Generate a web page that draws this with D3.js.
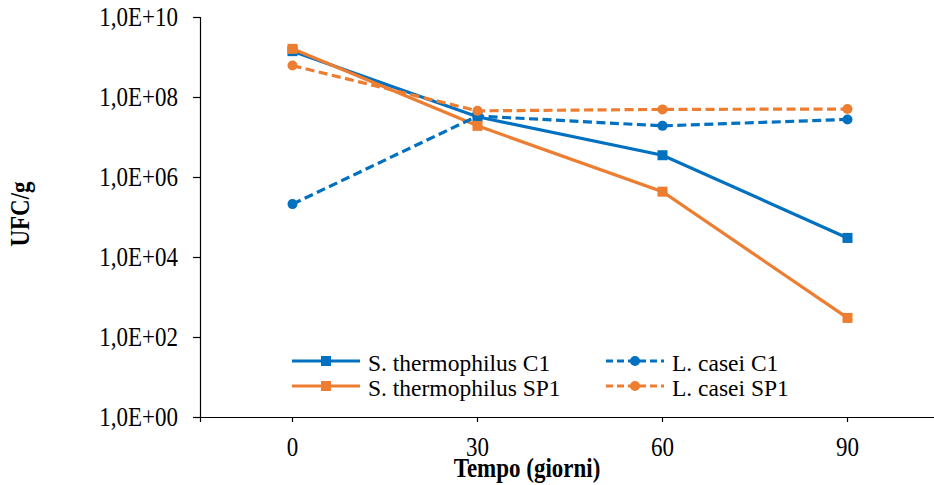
<!DOCTYPE html>
<html>
<head>
<meta charset="utf-8">
<script src="https://cdn.jsdelivr.net/npm/d3@7"></script>
<style>
  body { margin: 0; background: #fff; }
  text { font-family: "Liberation Serif", "Times New Roman", serif; fill: #000; }
</style>
</head>
<body>
<svg id="chart" width="934" height="485"></svg>
<script>
// categories (days)
var giorni = ["0", "30", "60", "90"];

// UFC/g per series
var stC1 = [1.4e9, 3.2e7, 3.5e6, 3.0e4];
var stSP1 = [1.6e9, 1.9e7, 4.3e5, 3.0e2];
var lcC1 = [2.1e5, 3.35e7, 1.9e7, 2.75e7];
var lcSP1 = [6.1e8, 4.5e7, 4.9e7, 5.0e7];

var yTicks = [1e0, 1e2, 1e4, 1e6, 1e8, 1e10];

var series = [
    { name: "S. thermophilus C1", values: stC1, color: "#0070C0", dashed: false, marker: "square" },
    { name: "S. thermophilus SP1", values: stSP1, color: "#ED7D31", dashed: false, marker: "square" },
    { name: "L. casei C1", values: lcC1, color: "#0070C0", dashed: true, marker: "circle" },
    { name: "L. casei SP1", values: lcSP1, color: "#ED7D31", dashed: true, marker: "circle" }
];

// axis text in the source is a bit taller than plain Times, stretch it vertically
var textStretch = 1.15;

function stretch(sel)
{
    sel.each(function ()
    {
        var t = d3.select(this);
        var tx = +t.attr("x") || 0;
        var ty = +t.attr("y") || 0;
        t.attr("transform", "translate(" + tx + "," + ty + ") scale(1," + textStretch + ") translate(" + (-tx) + "," + (-ty) + ")");
    });
}

var svg = d3.select("#chart");

var x = d3.scaleBand().domain(giorni).range([200, 940]);
var y = d3.scaleLog().domain([1e0, 1e10]).range([417, 17]);

function fmtExp(v)
{
    var e = Math.round(Math.log10(v));
    return "1,0E+" + (e < 10 ? "0" + e : e);
}

// y axis
var yAxis = svg.append("g")
    .attr("transform", "translate(200,0)")
    .call(d3.axisLeft(y).tickValues(yTicks).tickFormat(fmtExp).tickSize(7).tickPadding(15));
yAxis.select(".domain").attr("stroke", "#000").attr("stroke-width", 1.2);
yAxis.selectAll(".tick line").attr("stroke", "#000").attr("stroke-width", 1.2);
yAxis.selectAll("text").style("font-size", "23px").attr("dy", "0.33em").call(stretch);

// x axis
var xAxis = svg.append("g")
    .attr("transform", "translate(0,417)")
    .call(d3.axisBottom(x).tickSizeOuter(0).tickSize(5));
xAxis.select(".domain").attr("stroke", "#000").attr("stroke-width", 1.2);
xAxis.selectAll(".tick line").attr("stroke", "#000").attr("stroke-width", 1.2);
xAxis.selectAll("text").style("font-size", "23px").attr("y", 39).attr("dy", 0).call(stretch);

// axis titles
svg.append("text")
    .attr("x", 527)
    .attr("y", 477)
    .attr("text-anchor", "middle")
    .style("font-size", "23px")
    .style("font-weight", "bold")
    .text("Tempo (giorni)")
    .call(stretch);

svg.append("text")
    .attr("transform", "translate(29,214) rotate(-90) scale(1," + textStretch + ")")
    .attr("text-anchor", "middle")
    .style("font-size", "23px")
    .style("font-weight", "bold")
    .text("UFC/g");

var line = d3.line()
    .x(function (d, i) { return x(giorni[i]) + x.bandwidth() / 2; })
    .y(function (d) { return y(d); });

function drawMarker(g, type, color, cx, cy)
{
    if (type === "square")
    {
        g.append("rect")
            .attr("x", cx - 5)
            .attr("y", cy - 5)
            .attr("width", 10)
            .attr("height", 10)
            .attr("fill", color);
    }
    else
    {
        g.append("circle")
            .attr("cx", cx)
            .attr("cy", cy)
            .attr("r", 5)
            .attr("fill", color);
    }
}

series.forEach(function (s)
{
    var g = svg.append("g");
    g.append("path")
        .datum(s.values)
        .attr("fill", "none")
        .attr("stroke", s.color)
        .attr("stroke-width", 3.2)
        .attr("stroke-dasharray", s.dashed ? "9,4.5" : null)
        .attr("d", line);
    s.values.forEach(function (v, i)
    {
        drawMarker(g, s.marker, s.color, x(giorni[i]) + x.bandwidth() / 2, y(v));
    });
});

// legend
var legendPos = [
    { lx: 292, ly: 361 },
    { lx: 292, ly: 386 },
    { lx: 606, ly: 361 },
    { lx: 606, ly: 386 }
];

series.forEach(function (s, i)
{
    var p = legendPos[i];
    var len = s.dashed ? 58 : 68;
    var g = svg.append("g");
    g.append("line")
        .attr("x1", p.lx)
        .attr("x2", p.lx + len)
        .attr("y1", p.ly)
        .attr("y2", p.ly)
        .attr("stroke", s.color)
        .attr("stroke-width", 3.2)
        .attr("stroke-dasharray", s.dashed ? "7,4" : null);
    drawMarker(g, s.marker, s.color, p.lx + len / 2, p.ly);
    g.append("text")
        .attr("x", p.lx + len + 8)
        .attr("y", p.ly + 9.5)
        .style("font-size", "23.5px")
        .text(s.name);
});
</script>
</body>
</html>
